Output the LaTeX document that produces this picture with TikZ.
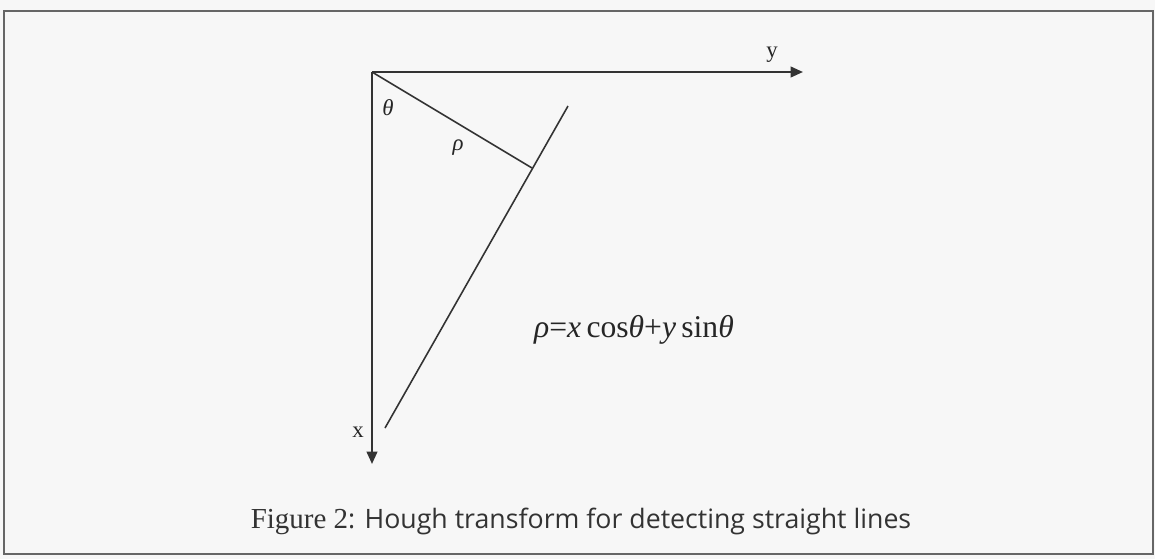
\documentclass[tikz,border=0pt]{standalone}
\usepackage{fontspec}
\setmainfont{Liberation Serif}
\newfontfamily\capfont{Open Sans}
\usetikzlibrary{arrows.meta}

\begin{document}
\begin{tikzpicture}[x=0.02cm, y=-0.02cm,
    axis/.style={draw=black!80, line width=1.2pt, -{Triangle[length=7pt, width=6pt]}},
    ray/.style={draw=black!80, line width=0.9pt},
    lbl/.style={inner sep=0pt, text=black!85, font=\fontsize{13}{14}\selectfont}]
  % page and frame
  \fill[black!3] (0,0) rectangle (1155,559);
  \useasboundingbox (0,0) rectangle (1155,559);
  \draw[black!60, line width=1.1pt] (4,11) rectangle (1153,554);

  % axes
  \coordinate (O) at (372,72);
  \coordinate (ytip) at (803,72);
  \coordinate (xtip) at (372,464);
  \draw[axis] (O) -- (ytip);
  \draw[axis] (O) -- (xtip);

  % the line and its normal
  \coordinate (top) at (568,106);
  \coordinate (bot) at (385,428);
  \coordinate (foot) at (532,168);
  \draw[ray] (top) -- (bot);
  \draw[ray] (O) -- (foot);

  % labels
  \node[lbl] (ylab) at (772,55) {y};
  \node[lbl] (xlab) at (358,432) {x};
  \node[lbl] (theta) at (388,108) {\textit{θ}};
  \node[lbl] (rho) at (458,148) {\textit{ρ}};
  \node[lbl, font=\fontsize{18}{20}\selectfont] (eq) at (634,330)
    {\textit{ρ}=\textit{x}\,cos\textit{θ}+\textit{y}\,sin\textit{θ}};

  % caption
  \node[inner sep=0pt, text=black!80, font=\fontsize{16.5}{18}\selectfont] (cap) at (581,521)
    {Figure 2{\capfont\fontsize{15.2}{18}\selectfont: Hough transform for detecting straight lines}};
\end{tikzpicture}
\end{document}
